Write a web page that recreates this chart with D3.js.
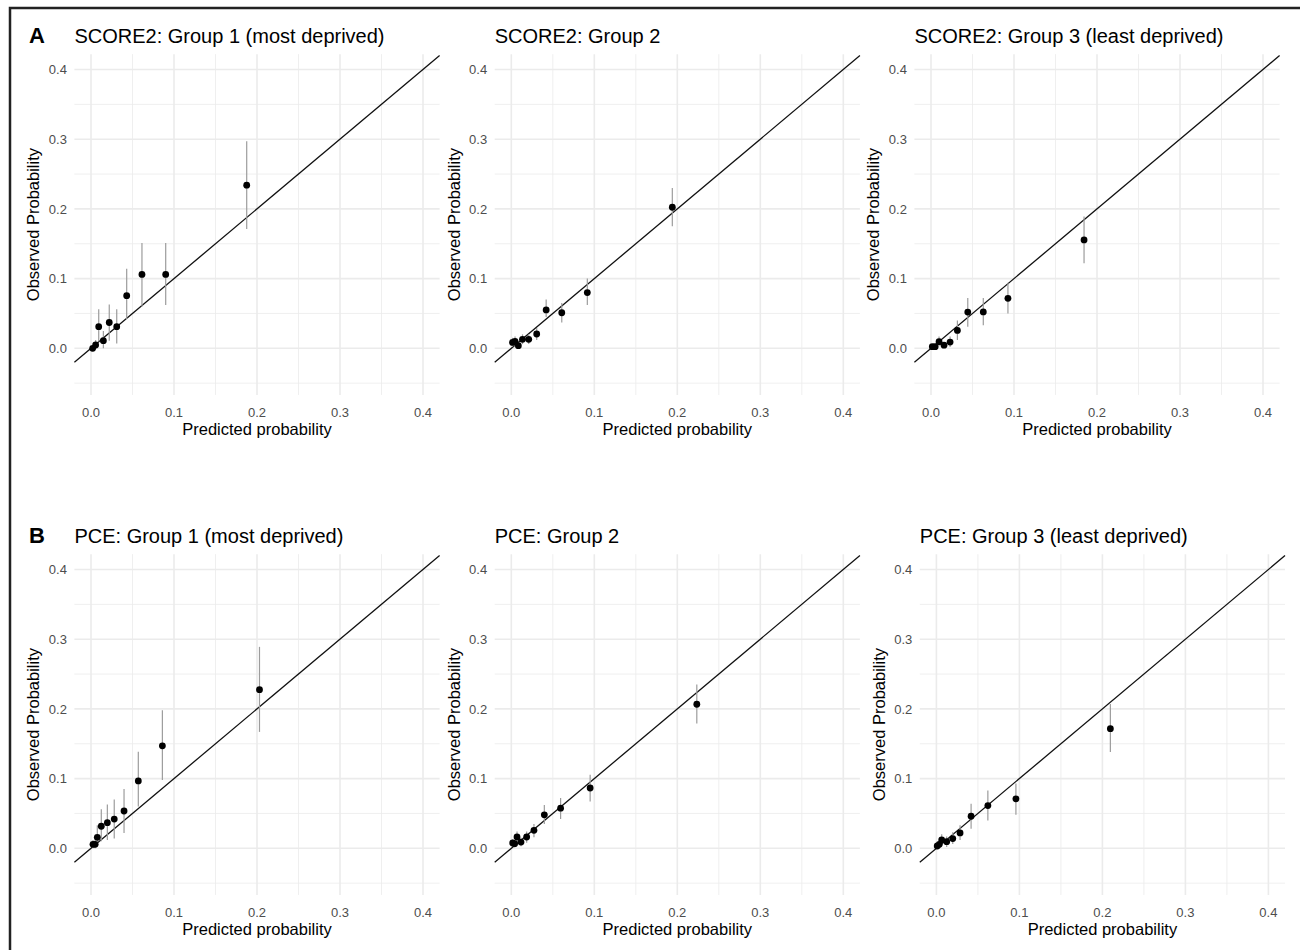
<!DOCTYPE html>
<html>
<head>
<meta charset="utf-8">
<script src="https://cdn.jsdelivr.net/npm/d3@7"></script>
<style>
  body { margin: 0; background: #fff; }
  svg { display: block; font-family: "Liberation Sans", Arial, sans-serif; }
</style>
</head>
<body>
<div id="chart"></div>
<script>
// ---- data ----
const xTicks = [0, 0.1, 0.2, 0.3, 0.4];
const yTicks = [0, 0.1, 0.2, 0.3, 0.4];
const xMinor = [0.05, 0.15, 0.25, 0.35];
const yMinor = [-0.05, 0.05, 0.15, 0.25, 0.35];

const panelTitles = [
  "SCORE2: Group 1 (most deprived)", "SCORE2: Group 2", "SCORE2: Group 3 (least deprived)",
  "PCE: Group 1 (most deprived)", "PCE: Group 2", "PCE: Group 3 (least deprived)"
];
const rowLetters = ["A", "B"];

// SCORE2, group 1
const s2g1Pred = [0.002, 0.0056, 0.0093, 0.0149, 0.022, 0.031, 0.043, 0.0614, 0.090, 0.1876];
const s2g1Obs  = [0.000, 0.0047, 0.031, 0.011, 0.037, 0.031, 0.0755, 0.106, 0.106, 0.234];
const s2g1Lo   = [0.000, 0.000, 0.010, 0.000, 0.011, 0.007, 0.042, 0.060, 0.062, 0.171];
const s2g1Hi   = [0.004, 0.012, 0.056, 0.025, 0.063, 0.056, 0.114, 0.151, 0.151, 0.297];

// SCORE2, group 2
const s2g2Pred = [0.0015, 0.0045, 0.0085, 0.0135, 0.021, 0.0306, 0.042, 0.0608, 0.0916, 0.194];
const s2g2Obs  = [0.0085, 0.0100, 0.0037, 0.0129, 0.0129, 0.0205, 0.055, 0.051, 0.080, 0.2024];
const s2g2Lo   = [0.002, 0.003, 0.000, 0.006, 0.006, 0.012, 0.045, 0.037, 0.062, 0.175];
const s2g2Hi   = [0.015, 0.017, 0.008, 0.020, 0.020, 0.029, 0.070, 0.065, 0.100, 0.230];

// SCORE2, group 3
const s2g3Pred = [0.0016, 0.005, 0.0097, 0.0157, 0.023, 0.0318, 0.0443, 0.063, 0.0927, 0.1844];
const s2g3Obs  = [0.0023, 0.0023, 0.0095, 0.0045, 0.009, 0.0256, 0.052, 0.0522, 0.0717, 0.1555];
const s2g3Lo   = [0.000, 0.000, 0.003, 0.000, 0.002, 0.012, 0.031, 0.033, 0.050, 0.122];
const s2g3Hi   = [0.005, 0.006, 0.017, 0.009, 0.017, 0.040, 0.072, 0.072, 0.094, 0.189];

// PCE, group 1
const pceG1Pred = [0.0024, 0.005, 0.0076, 0.0124, 0.0197, 0.028, 0.0398, 0.057, 0.086, 0.203];
const pceG1Obs  = [0.0057, 0.0057, 0.0158, 0.0316, 0.0368, 0.042, 0.0535, 0.0966, 0.147, 0.2276];
const pceG1Lo   = [0.000, 0.000, 0.003, 0.010, 0.012, 0.014, 0.022, 0.060, 0.098, 0.167];
const pceG1Hi   = [0.012, 0.013, 0.033, 0.056, 0.063, 0.070, 0.085, 0.1386, 0.198, 0.289];

// PCE, group 2
const pceG2Pred = [0.0017, 0.004, 0.0069, 0.0117, 0.0185, 0.0273, 0.0398, 0.0594, 0.095, 0.2235];
const pceG2Obs  = [0.0076, 0.0067, 0.0162, 0.009, 0.0162, 0.0258, 0.048, 0.0575, 0.0865, 0.2067];
const pceG2Lo   = [0.002, 0.001, 0.008, 0.003, 0.008, 0.016, 0.035, 0.042, 0.067, 0.179];
const pceG2Hi   = [0.013, 0.012, 0.024, 0.015, 0.024, 0.035, 0.062, 0.072, 0.1055, 0.235];

// PCE, group 3
const pceG3Pred = [0.001, 0.0035, 0.0064, 0.0124, 0.0197, 0.0285, 0.0418, 0.062, 0.0958, 0.2096];
const pceG3Obs  = [0.0033, 0.0057, 0.0119, 0.0095, 0.014, 0.022, 0.046, 0.0613, 0.071, 0.1717];
const pceG3Lo   = [0.000, 0.001, 0.005, 0.002, 0.006, 0.012, 0.028, 0.040, 0.048, 0.138];
const pceG3Hi   = [0.007, 0.011, 0.020, 0.017, 0.023, 0.033, 0.064, 0.083, 0.093, 0.207];

const seriesSets = [
  [s2g1Pred, s2g1Obs, s2g1Lo, s2g1Hi],
  [s2g2Pred, s2g2Obs, s2g2Lo, s2g2Hi],
  [s2g3Pred, s2g3Obs, s2g3Lo, s2g3Hi],
  [pceG1Pred, pceG1Obs, pceG1Lo, pceG1Hi],
  [pceG2Pred, pceG2Obs, pceG2Lo, pceG2Hi],
  [pceG3Pred, pceG3Obs, pceG3Lo, pceG3Hi]
];

// ---- layout ----
const W = 1300, H = 950;
const xDomain = [-0.02, 0.42];
const yDomain = [-0.067, 0.422];
const pxPerUnitX = 830, pxPerUnitY = 697;
const rowZeroY = [348.3, 848.3];          // pixel y of value 0 in each row
const colZeroX = [[91, 511.3, 931], [91, 511.3, 936.4]];  // pixel x of value 0

const fmt = d3.format(".1f");
const gridCol = "#ebebeb";

const svg = d3.select("#chart").append("svg")
  .attr("width", W).attr("height", H);

svg.append("rect").attr("width", W).attr("height", H).attr("fill", "#fff");

// frame of the figure (right/bottom run off the picture)
svg.append("rect")
  .attr("x", 10).attr("y", 8).attr("width", W + 20).attr("height", H + 20)
  .attr("fill", "none").attr("stroke", "#222").attr("stroke-width", 2.5);

seriesSets.forEach((set, i) => {
  const row = Math.floor(i / 3), col = i % 3;
  const x0 = colZeroX[row][col], y0 = rowZeroY[row];
  const x = d3.scaleLinear().domain(xDomain)
    .range([x0 + xDomain[0] * pxPerUnitX, x0 + xDomain[1] * pxPerUnitX]);
  const y = d3.scaleLinear().domain(yDomain)
    .range([y0 - yDomain[0] * pxPerUnitY, y0 - yDomain[1] * pxPerUnitY]);
  const [left, right] = x.range();
  const [bottom, top] = y.range();

  const g = svg.append("g");

  // minor grid
  g.selectAll(".vmin").data(xMinor).join("line")
    .attr("x1", d => x(d)).attr("x2", d => x(d)).attr("y1", top).attr("y2", bottom)
    .attr("stroke", gridCol).attr("stroke-width", 0.8);
  g.selectAll(".hmin").data(yMinor).join("line")
    .attr("y1", d => y(d)).attr("y2", d => y(d)).attr("x1", left).attr("x2", right)
    .attr("stroke", gridCol).attr("stroke-width", 0.8);
  // major grid
  g.selectAll(".vmaj").data(xTicks).join("line")
    .attr("x1", d => x(d)).attr("x2", d => x(d)).attr("y1", top).attr("y2", bottom)
    .attr("stroke", gridCol).attr("stroke-width", 1.6);
  g.selectAll(".hmaj").data(yTicks).join("line")
    .attr("y1", d => y(d)).attr("y2", d => y(d)).attr("x1", left).attr("x2", right)
    .attr("stroke", gridCol).attr("stroke-width", 1.6);

  // tick labels
  g.selectAll(".xl").data(xTicks).join("text")
    .attr("x", d => x(d)).attr("y", y0 + 68.5)
    .attr("text-anchor", "middle").attr("font-size", 13).attr("fill", "#4d4d4d")
    .text(fmt);
  g.selectAll(".yl").data(yTicks).join("text")
    .attr("x", left - 7.5).attr("y", d => y(d)).attr("dy", "0.36em")
    .attr("text-anchor", "end").attr("font-size", 13).attr("fill", "#4d4d4d")
    .text(fmt);

  // axis titles
  g.append("text")
    .attr("x", (left + right) / 2).attr("y", y0 + 86.7)
    .attr("text-anchor", "middle").attr("font-size", 16.5).attr("fill", "#000")
    .text("Predicted probability");
  g.append("text")
    .attr("transform", `translate(${left - 35},${(top + bottom) / 2}) rotate(-90)`)
    .attr("text-anchor", "middle").attr("font-size", 16.5).attr("fill", "#000")
    .text("Observed Probability");

  // panel title
  g.append("text")
    .attr("x", left).attr("y", y0 - 305.8)
    .attr("font-size", 20).attr("fill", "#000")
    .text(panelTitles[i]);
  if (col === 0) {
    g.append("text")
      .attr("x", 29).attr("y", y0 - 305.3)
      .attr("font-size", 22).attr("font-weight", "bold").attr("fill", "#000")
      .text(rowLetters[row]);
  }

  // identity line
  g.append("line")
    .attr("x1", x(xDomain[0])).attr("y1", y(xDomain[0]))
    .attr("x2", x(xDomain[1])).attr("y2", y(xDomain[1]))
    .attr("stroke", "#111").attr("stroke-width", 1.3);

  const [pred, obs, lo, hi] = set;
  const pts = pred.map((p, k) => ({ p, o: obs[k], lo: lo[k], hi: hi[k] }));

  g.selectAll(".err").data(pts).join("line")
    .attr("x1", d => x(d.p)).attr("x2", d => x(d.p))
    .attr("y1", d => y(d.lo)).attr("y2", d => y(d.hi))
    .attr("stroke", "#9c9c9c").attr("stroke-width", 1.2);

  g.selectAll(".pt").data(pts).join("circle")
    .attr("cx", d => x(d.p)).attr("cy", d => y(d.o)).attr("r", 3.4)
    .attr("fill", "#000");
});
</script>
</body>
</html>
